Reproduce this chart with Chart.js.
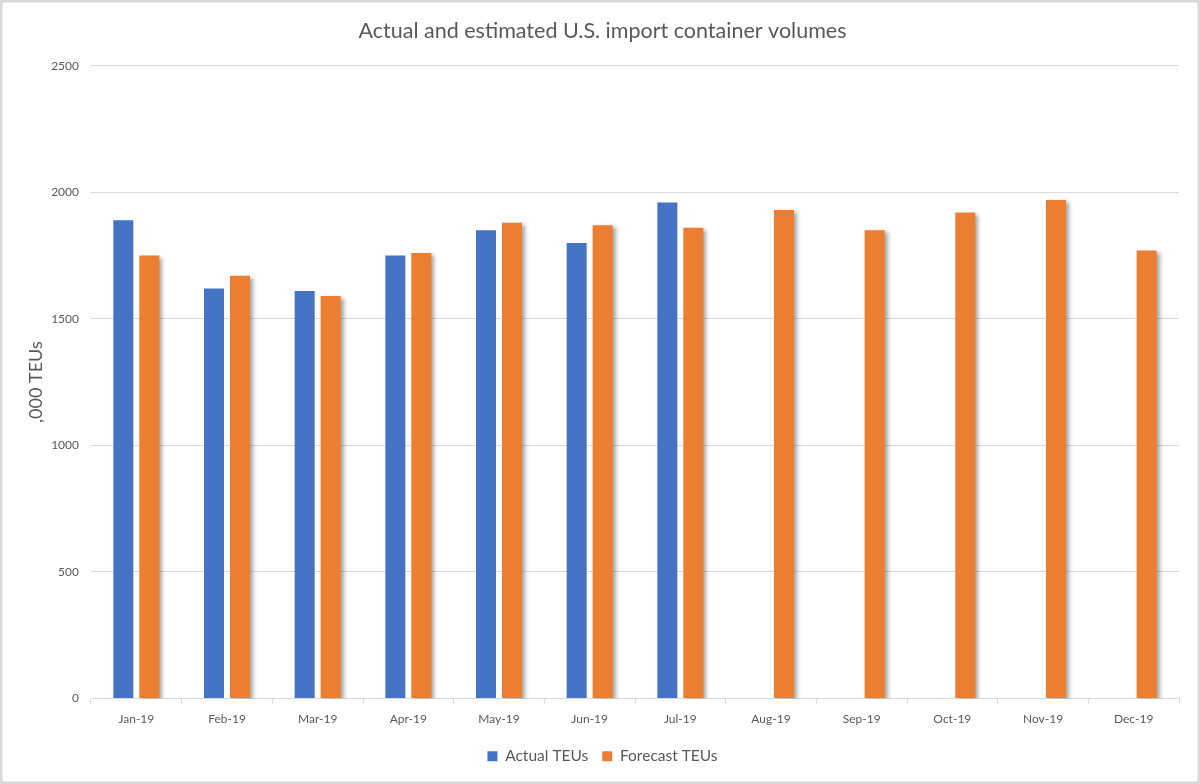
<!DOCTYPE html>
<html>
<head>
<meta charset="utf-8">
<script src="https://cdn.jsdelivr.net/npm/chart.js@4"></script>
<style>
  html, body { margin: 0; padding: 0; background: #fff; }
  #wrap { width: 1200px; height: 784px; position: relative; }
</style>
</head>
<body>
<div id="wrap"><canvas id="c" width="1200" height="784"></canvas></div>
<script>
const categories = ['Jan-19','Feb-19','Mar-19','Apr-19','May-19','Jun-19','Jul-19','Aug-19','Sep-19','Oct-19','Nov-19','Dec-19'];
const actualTEUs = [1890, 1620, 1610, 1750, 1850, 1800, 1960, null, null, null, null, null];
const forecastTEUs = [1750, 1670, 1590, 1760, 1880, 1870, 1860, 1930, 1850, 1920, 1970, 1770];
const yTicks = [0, 500, 1000, 1500, 2000, 2500];

const FONT = 'Lato';
const TXT = '#595959';

const shadowPlugin = {
  id: 'barShadow',
  beforeDatasetDraw(chart, args) {
    if (args.index === 1) {
      const ctx = chart.ctx;
      ctx.save();
      ctx.shadowColor = 'rgba(0,0,0,0.35)';
      ctx.shadowBlur = 4;
      ctx.shadowOffsetX = 3;
      ctx.shadowOffsetY = 2;
    }
  },
  afterDatasetDraw(chart, args) {
    if (args.index === 1) chart.ctx.restore();
  }
};

const borderPlugin = {
  id: 'outerBorder',
  afterDraw(chart) {
    const ctx = chart.ctx;
    ctx.save();
    ctx.strokeStyle = '#d9d9d9';
    ctx.lineWidth = 2.5;
    ctx.strokeRect(1.25, 1.25, chart.width - 2.5, chart.height - 2.5);
    ctx.restore();
  }
};

new Chart(document.getElementById('c'), {
  type: 'bar',
  data: {
    labels: categories,
    datasets: [
      { label: 'Actual TEUs', data: actualTEUs, backgroundColor: '#4472C4', borderWidth: 0,
        categoryPercentage: 0.573, barPercentage: 0.77 },
      { label: 'Forecast TEUs', data: forecastTEUs, backgroundColor: '#ED7D31', borderWidth: 0,
        categoryPercentage: 0.573, barPercentage: 0.77 }
    ]
  },
  options: {
    responsive: false,
    animation: false,
    devicePixelRatio: 1,
    layout: { padding: { top: 0, right: 21, bottom: 10, left: 26 } },
    plugins: {
      title: {
        display: true,
        text: 'Actual and estimated U.S. import container volumes',
        color: TXT,
        font: { family: FONT, size: 21.5, weight: 'normal' },
        padding: { top: 18, bottom: 22 }
      },
      legend: {
        display: true,
        position: 'bottom',
        labels: {
          color: TXT,
          font: { family: FONT, size: 15.5 },
          boxWidth: 10,
          boxHeight: 10,
          padding: 14
        }
      },
      tooltip: { enabled: false }
    },
    scales: {
      x: {
        grid: { display: true, offset: true, drawOnChartArea: false, drawTicks: true, tickLength: 5, color: '#d9d9d9' },
        border: { display: true, color: '#d9d9d9' },
        ticks: { color: TXT, font: { family: FONT, size: 12 }, padding: 8, maxRotation: 0, autoSkip: false },
        afterFit(scale) { scale.height = 36; }
      },
      y: {
        min: 0,
        max: 2500,
        afterBuildTicks(scale) { scale.ticks = yTicks.map(v => ({ value: v })); },
        grid: { color: '#d9d9d9', drawTicks: false },
        border: { display: false },
        ticks: { color: TXT, font: { family: FONT, size: 12 }, padding: 12, callback: v => String(v) },
        title: {
          display: true,
          text: ',000 TEUs',
          color: TXT,
          font: { family: FONT, size: 18 },
          padding: { top: -1, bottom: 0 }
        },
        afterFit(scale) { scale.width = 65; }
      }
    }
  },
  plugins: [shadowPlugin, borderPlugin]
});
</script>
</body>
</html>
